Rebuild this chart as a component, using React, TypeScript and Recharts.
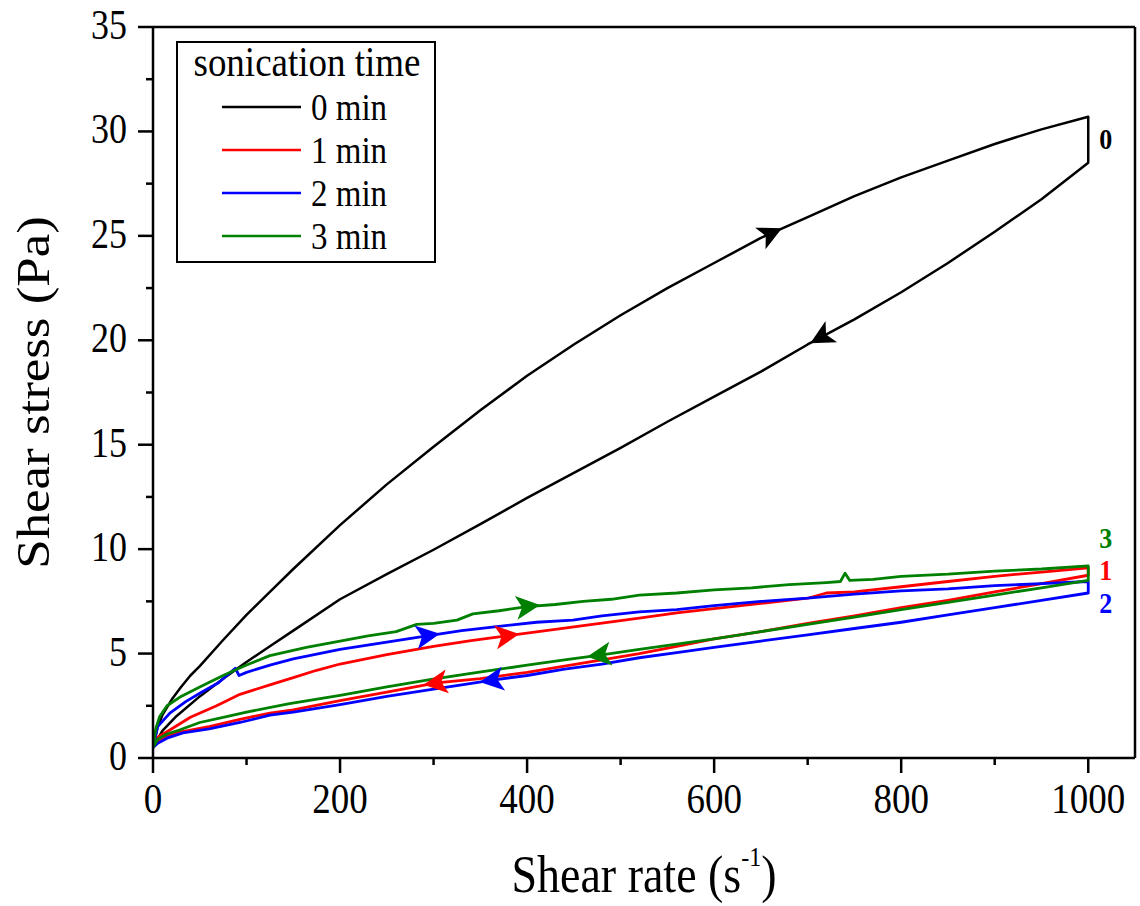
import React from 'react';
import {
  ComposedChart, Line, Scatter, XAxis, YAxis, ReferenceLine, ReferenceDot, Legend,
} from 'recharts';

const FONT = '"Liberation Serif", "Times New Roman", serif';
const W = 1140;
const H = 906;
const MARGIN = { top: 27, right: 5, bottom: 0, left: 0 };
const Y_AXIS_W = 153;
const X_AXIS_H = 148;
const X_MAX = 1050;
const Y_MAX = 35;

const xTicks = [0, 100, 200, 300, 400, 500, 600, 700, 800, 900, 1000];
const yTicks = [0, 2.5, 5, 7.5, 10, 12.5, 15, 17.5, 20, 22.5, 25, 27.5, 30, 32.5, 35];

// shear rate / shear stress, ramp up then ramp down
const up0 = [[0,0.5],[5,1.5],[10,2.05],[20,2.8],[30,3.4],[40,3.95],[50,4.4],[75,5.65],[100,6.85],[125,7.95],[150,9.05],[200,11.15],[250,13.1],[300,14.9],[350,16.65],[400,18.3],[450,19.8],[500,21.2],[550,22.5],[600,23.7],[650,24.9],[700,25.9],[750,26.9],[800,27.8],[850,28.6],[900,29.4],[950,30.1],[1000,30.7]];
const down0 = [[1000,28.5],[950,26.75],[900,25.2],[850,23.7],[800,22.3],[750,21.0],[700,19.8],[650,18.5],[600,17.3],[550,16.1],[500,14.85],[450,13.65],[400,12.45],[350,11.2],[300,9.97],[250,8.8],[200,7.6],[150,6.1],[125,5.35],[100,4.6],[75,3.8],[50,2.95],[25,2.0],[10,1.3],[0,0.5]];

const up1 = [[0,0.5],[5,1.0],[18,1.34],[40,1.95],[68,2.5],[93,3.05],[125,3.5],[150,3.85],[175,4.2],[200,4.5],[250,4.95],[300,5.35],[340,5.62],[378,5.85],[420,6.1],[470,6.4],[520,6.7],[560,6.95],[600,7.15],[650,7.4],[700,7.65],[720,7.9],[750,7.95],[800,8.2],[850,8.45],[900,8.7],[950,8.9],[1000,9.1]];
const down1 = [[1000,8.75],[950,8.35],[900,7.95],[850,7.55],[800,7.2],[750,6.8],[700,6.45],[650,6.05],[600,5.7],[560,5.35],[520,5.0],[480,4.7],[440,4.4],[400,4.1],[350,3.8],[303,3.6],[250,3.15],[200,2.75],[150,2.3],[125,2.15],[93,1.85],[60,1.5],[30,1.25],[15,1.05],[5,0.8],[0,0.5]];

const up2 = [[0,0.5],[5,1.5],[18,2.15],[35,2.7],[50,3.1],[70,3.6],[88,4.3],[92,3.95],[100,4.1],[125,4.45],[150,4.75],[200,5.2],[250,5.55],[293,5.85],[330,6.1],[370,6.3],[410,6.5],[449,6.6],[480,6.8],[520,7.0],[560,7.1],[600,7.3],[650,7.5],[700,7.65],[750,7.85],[800,8.0],[850,8.1],[900,8.25],[950,8.35],[1000,8.45]];
const down2 = [[1000,7.9],[950,7.55],[900,7.2],[850,6.85],[800,6.5],[750,6.2],[700,5.9],[650,5.6],[600,5.3],[560,5.05],[520,4.8],[480,4.5],[440,4.25],[400,3.95],[363,3.73],[330,3.5],[300,3.3],[250,2.95],[200,2.55],[150,2.2],[125,2.05],[93,1.7],[60,1.4],[32,1.2],[15,0.95],[5,0.7],[0,0.5]];

const up3 = [[0,0.5],[3,1.4],[7,1.97],[15,2.5],[30,2.95],[50,3.4],[75,3.95],[100,4.45],[125,4.9],[164,5.3],[200,5.6],[230,5.85],[260,6.05],[282,6.4],[300,6.45],[325,6.6],[342,6.9],[370,7.05],[400,7.25],[430,7.35],[460,7.5],[490,7.6],[520,7.8],[560,7.9],[600,8.05],[640,8.15],[680,8.3],[720,8.4],[735,8.45],[740,8.85],[745,8.5],[770,8.55],[800,8.7],[850,8.8],[900,8.95],[950,9.05],[1000,9.2]];
const down3 = [[1000,8.5],[950,8.15],[900,7.8],[850,7.45],[800,7.1],[750,6.75],[700,6.4],[650,6.05],[600,5.7],[560,5.45],[520,5.2],[478,4.93],[440,4.7],[400,4.45],[378,4.3],[340,4.05],[296,3.75],[250,3.4],[200,3.0],[146,2.6],[100,2.2],[75,1.95],[50,1.7],[29,1.35],[15,1.15],[5,0.9],[0,0.5]];

const seriesNames = ['0 min', '1 min', '2 min', '3 min'];
const seriesColors = ['#000000', '#ff0000', '#0000ff', '#008000'];
const seriesUp = [up0, up1, up2, up3];
const seriesDown = [down0, down1, down2, down3];

// where the direction arrows sit: series index, branch, shear rate
const arrowSpots = [
  { s: 0, branch: 'up', x: 660 },
  { s: 0, branch: 'down', x: 715 },
  { s: 1, branch: 'up', x: 378 },
  { s: 1, branch: 'down', x: 303 },
  { s: 2, branch: 'up', x: 293 },
  { s: 2, branch: 'down', x: 363 },
  { s: 3, branch: 'up', x: 400 },
  { s: 3, branch: 'down', x: 478 },
];

const endLabels = [
  { text: '0', y: 29.6, s: 0 },
  { text: '3', y: 10.5, s: 3 },
  { text: '1', y: 8.95, s: 1 },
  { text: '2', y: 7.35, s: 2 },
];

const toPts = (arr: number[][]) => arr.map(([x, y]) => ({ x, y }));

const PLOT_W = W - MARGIN.left - MARGIN.right - Y_AXIS_W;
const PLOT_H = H - MARGIN.top - MARGIN.bottom - X_AXIS_H;
const PX_X = PLOT_W / X_MAX;
const PX_Y = PLOT_H / Y_MAX;

function locate(branch: number[][], x: number) {
  const pts = [...branch].sort((a, b) => a[0] - b[0]);
  for (let i = 0; i < pts.length - 1; i++) {
    const [x0, y0] = pts[i];
    const [x1, y1] = pts[i + 1];
    if (x >= x0 && x <= x1) {
      const t = (x - x0) / (x1 - x0);
      return y0 + t * (y1 - y0);
    }
  }
  return pts[pts.length - 1][1];
}

const arrowData = arrowSpots.map((a) => {
  const branch = a.branch === 'up' ? seriesUp[a.s] : seriesDown[a.s];
  const dir = a.branch === 'up' ? 1 : -1;
  // slope over a wider window for a steadier direction
  const xa = Math.max(0, a.x - 40);
  const xb = Math.min(1000, a.x + 40);
  const slope = (locate(branch, xb) - locate(branch, xa)) / (xb - xa);
  const angle = (Math.atan2(-dir * slope * PX_Y, dir * PX_X) * 180) / Math.PI;
  return { x: a.x, y: locate(branch, a.x), angle, color: seriesColors[a.s] };
});

const ArrowHead = (props: any) => {
  const { cx, cy, payload } = props;
  if (cx == null || cy == null) return null;
  return (
    <polygon
      points="13,0 -11,-12 -5,0 -11,12"
      fill={payload.color}
      transform={`translate(${cx},${cy}) rotate(${payload.angle})`}
    />
  );
};

const XTick = (props: any) => {
  const { x, y, payload } = props;
  const major = payload.value % 200 === 0;
  return (
    <g>
      <line x1={x} y1={y} x2={x} y2={y + (major ? 15 : 7)} stroke="#000" strokeWidth={2.5} />
      {major && (
        <text
          transform={`translate(${x},${y + 55}) scale(1,1.15)`}
          textAnchor="middle"
          fontSize={37}
          fontFamily={FONT}
          fill="#000"
        >
          {payload.value}
        </text>
      )}
    </g>
  );
};

const YTick = (props: any) => {
  const { x, y, payload } = props;
  const major = payload.value % 5 === 0;
  return (
    <g>
      <line x1={x - (major ? 15 : 7)} y1={y} x2={x} y2={y} stroke="#000" strokeWidth={2.5} />
      {major && (
        <text
          transform={`translate(${x - 26},${y + 12}) scale(1,1.15)`}
          textAnchor="end"
          fontSize={36}
          fontFamily={FONT}
          fill="#000"
        >
          {payload.value}
        </text>
      )}
    </g>
  );
};

const XTitle = (props: any) => {
  const vb = props.viewBox;
  return (
    <text
      transform={`translate(${vb.x + vb.width / 2},${vb.y + 134}) scale(1,1.15)`}
      textAnchor="middle"
      fontSize={46}
      fontFamily={FONT}
      fill="#000"
    >
      Shear rate (s<tspan dy={-23} fontSize={24}>-1</tspan><tspan dy={23}>)</tspan>
    </text>
  );
};

const YTitle = (props: any) => {
  const vb = props.viewBox;
  return (
    <text
      transform={`translate(49,${vb.y + vb.height / 2}) rotate(-90) scale(1.15,1)`}
      textAnchor="middle"
      fontSize={46}
      fontFamily={FONT}
      fill="#000"
    >
      Shear stress (Pa)
    </text>
  );
};

const EndLabel = (props: any) => {
  const { viewBox, value, fill } = props;
  const cx = viewBox.x + viewBox.width / 2;
  const cy = viewBox.y + viewBox.height / 2;
  return (
    <text
      transform={`translate(${cx + 11},${cy + 9}) scale(1,1.12)`}
      fontSize={26}
      fontWeight="bold"
      fontFamily={FONT}
      fill={fill}
    >
      {value}
    </text>
  );
};

const LegendBox = () => (
  <svg width={262} height={224} style={{ display: 'block', overflow: 'visible' }}>
    <rect x={1} y={1} width={258} height={220} fill="#fff" stroke="#000" strokeWidth={2} />
    <text
      transform="translate(131,35) scale(1,1.15)"
      textAnchor="middle"
      fontSize={37}
      fontFamily={FONT}
      fill="#000"
    >
      sonication time
    </text>
    {seriesNames.map((name, i) => (
      <g key={name}>
        <line x1={46} x2={125} y1={66 + i * 43} y2={66 + i * 43} stroke={seriesColors[i]} strokeWidth={2.5} />
        <text
          transform={`translate(135,${79 + i * 43}) scale(1,1.15)`}
          fontSize={33}
          fontFamily={FONT}
          fill="#000"
        >
          {name}
        </text>
      </g>
    ))}
  </svg>
);

export default function App() {
  return (
    <div style={{ position: 'absolute', left: 0, top: 0, width: W, height: H, background: '#fff' }}>
      <ComposedChart width={W} height={H} margin={MARGIN}>
        <XAxis
          type="number"
          dataKey="x"
          domain={[0, X_MAX]}
          ticks={xTicks}
          interval={0}
          height={X_AXIS_H}
          axisLine={{ stroke: '#000', strokeWidth: 2.5 }}
          tickLine={false}
          tickSize={0}
          tickMargin={0}
          tick={<XTick />}
          label={{ content: <XTitle /> }}
          allowDataOverflow
        />
        <YAxis
          type="number"
          domain={[0, Y_MAX]}
          ticks={yTicks}
          interval={0}
          width={Y_AXIS_W}
          axisLine={{ stroke: '#000', strokeWidth: 2.5 }}
          tickLine={false}
          tickSize={0}
          tickMargin={0}
          tick={<YTick />}
          label={{ content: <YTitle /> }}
          allowDataOverflow
        />
        <ReferenceLine y={Y_MAX} stroke="#000" strokeWidth={2.5} />
        <ReferenceLine x={X_MAX} stroke="#000" strokeWidth={2.5} />
        {seriesNames.map((name, i) => (
          <Line
            key={name}
            name={name}
            data={toPts([...seriesUp[i], ...seriesDown[i]])}
            dataKey="y"
            type="linear"
            stroke={seriesColors[i]}
            strokeWidth={i === 0 ? 2.5 : 2.8}
            strokeLinejoin="round"
            dot={false}
            activeDot={false}
            isAnimationActive={false}
          />
        ))}
        <Scatter data={arrowData} dataKey="y" shape={<ArrowHead />} isAnimationActive={false} />
        {endLabels.map((l) => (
          <ReferenceDot
            key={l.text}
            x={1000}
            y={l.y}
            r={0}
            fill="none"
            stroke="none"
            label={<EndLabel value={l.text} fill={seriesColors[l.s]} />}
          />
        ))}
        <Legend
          layout="horizontal"
          verticalAlign="middle"
          align="center"
          wrapperStyle={{ position: 'absolute', left: 176, top: 41, width: 262, height: 224 }}
          content={() => <LegendBox />}
        />
      </ComposedChart>
    </div>
  );
}
